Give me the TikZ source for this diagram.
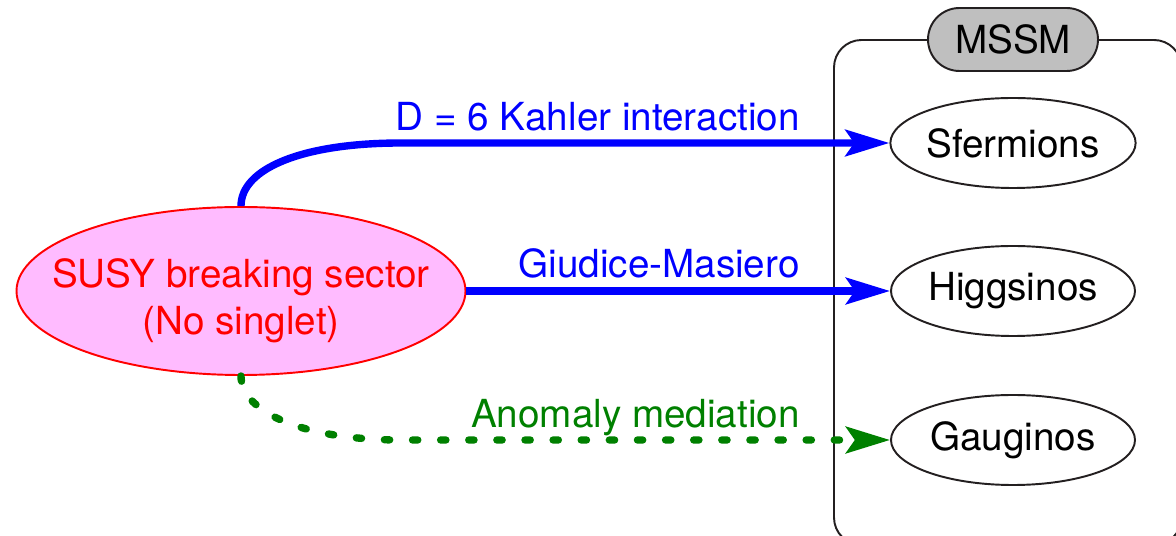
\documentclass[tikz,border=0pt]{standalone}
\usepackage{fontspec}
\setmainfont{TeX Gyre Heros}
\usetikzlibrary{shapes,arrows.meta,calc}
\definecolor{susypink}{RGB}{255,187,255}
\definecolor{anomalygreen}{RGB}{0,128,0}
\definecolor{boxline}{RGB}{35,31,32}
\tikzset{
	>={Stealth[length=25pt,width=15pt,inset=5pt]},
	every node/.style={font=\fontsize{22}{26.6}\selectfont},
	sector/.style={ellipse, draw=red, fill=susypink, line width=1.1pt, minimum width=8.98cm, minimum height=3.36cm, inner sep=0pt},
	sectortext/.style={text=red, align=center, yshift=-0.2cm},
	field/.style={ellipse, draw=boxline, line width=1.1pt, minimum width=4.88cm, minimum height=1.8cm, inner sep=0pt},
	medlabel/.style={anchor=base east, inner sep=0pt},
	mediation/.style={->, line width=4.2pt},
	anomaly/.style={->, line width=4.2pt, anomalygreen, line cap=round, dash pattern=on 3pt off 13pt}
}
\begin{document}
\begin{tikzpicture}
	\useasboundingbox (0,0) rectangle (23.52,-10.72);
	% MSSM container
	\node[draw=boxline, line width=1.1pt, rounded corners=0.55cm, minimum width=6.95cm, minimum height=10.1cm, inner sep=0pt] (mssm) at (20.155,-5.85) {};
	\node[rounded rectangle, draw=boxline, fill=gray!50, line width=1.1pt, minimum width=3.4cm, minimum height=1.26cm, inner sep=0pt] (mssmtitle) at (20.26,-0.79) {MSSM};
	\node[field] (sferm) at (20.26,-2.86) {Sfermions};
	\node[field] (higgs) at (20.26,-5.82) {Higgsinos};
	\node[field] (gaug) at (20.26,-8.8) {Gauginos};
	% breaking sector
	\node[sector, label={[sectortext]center:SUSY breaking sector\\(No singlet)}] (susy) at (4.82,-5.82) {};
	\draw [mediation, blue] (susy.north) .. controls +(0,0.74) and +(-2,0) .. ($(susy.north |- sferm.west)+(3.2,0)$) -- (sferm.west);
	\draw [mediation, blue] (susy.east) -- (higgs.west);
	\draw [anomaly] (susy.south) .. controls +(0,-0.7) and +(-2,0) .. ($(susy.south |- gaug.west)+(3.2,0)$) -- (gaug.west);
	\node[medlabel, text=blue] (kahlerlabel) at (16.0,-2.62) {D = 6 Kahler interaction};
	\node[medlabel, text=blue] (gmlabel) at (16.0,-5.56) {Giudice-Masiero};
	\node[medlabel, text=anomalygreen] (amlabel) at (16.0,-8.56) {Anomaly mediation};
\end{tikzpicture}
\end{document}
